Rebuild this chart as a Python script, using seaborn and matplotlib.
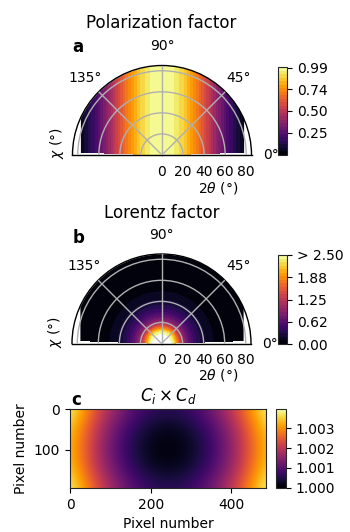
import numpy as np
import matplotlib
matplotlib.use("Agg")
import matplotlib.pyplot as plt
import seaborn as sns

# ---------------- data ----------------
# Polarization factor vs horizontal offset from the vertical axis (deg of 2theta)
pol_offset = [0, 5, 10, 15, 20, 25, 30, 35, 40, 45, 50, 55, 60, 65, 70, 75, 80, 85]
pol_values = [1.00, 0.99, 0.97, 0.93, 0.88, 0.82, 0.75, 0.67, 0.59, 0.50,
              0.41, 0.33, 0.25, 0.18, 0.12, 0.07, 0.03, 0.01]

# Lorentz factor (radially symmetric) vs 2theta
lor_two_theta = [0.5, 5, 9, 12, 15, 18, 21, 25, 30, 35, 40, 45, 50, 55, 60, 70, 80, 85]
lor_values = [60.0, 5.0, 2.55, 2.2, 1.7, 1.25, 0.95, 0.70, 0.48, 0.33, 0.22, 0.14,
              0.09, 0.06, 0.045, 0.03, 0.02, 0.015]

# Ci x Cd correction map (offset from 1, in units of 1e-3) on a coarse pixel grid
cicd_x = [0, 60.75, 121.5, 182.25, 243, 303.75, 364.5, 425.25, 486]
cicd_y = [0, 48.5, 97, 145.5, 194]
cicd_rows = [
    [3.97, 2.48, 1.41, 0.76, 0.55, 0.76, 1.41, 2.48, 3.97],
    [3.56, 2.07, 1.00, 0.35, 0.14, 0.35, 1.00, 2.07, 3.56],
    [3.42, 1.93, 0.86, 0.21, 0.00, 0.21, 0.86, 1.93, 3.42],
    [3.56, 2.07, 1.00, 0.35, 0.14, 0.35, 1.00, 2.07, 3.56],
    [3.97, 2.48, 1.41, 0.76, 0.55, 0.76, 1.41, 2.48, 3.97],
]

chi_range = [2, 178]          # azimuthal coverage of the data (deg)
detector_half_width = 77.5    # horizontal extent of the data (deg of 2theta)
r_max = 85

theta_ticks = [0, 45, 90, 135]
theta_labels = ["0°", "45°", "90°", "135°"]
r_ticks = [0, 20, 40, 60, 80]
pol_ticks = [0.255, 0.50, 0.745, 0.99]
pol_ticklabels = ["0.25", "0.50", "0.74", "0.99"]
lor_ticks = [0.0, 0.625, 1.25, 1.875, 2.5]
lor_ticklabels = ["0.00", "0.62", "1.25", "1.88", "> 2.50"]
cicd_ticks = [1.000, 1.001, 1.002, 1.003]

# ---------------- style ----------------
sns.set_style("ticks")
plt.rcParams["font.family"] = ["DejaVu Sans"]
plt.rcParams["font.size"] = 10
plt.rcParams["text.color"] = "black"
plt.rcParams["xtick.color"] = "black"
plt.rcParams["ytick.color"] = "black"
plt.rcParams["axes.labelcolor"] = "black"
cmap = sns.color_palette("inferno", as_cmap=True)

W, H = 350, 532
fig = plt.figure(figsize=(W / 100, H / 100), dpi=100)


def rect(x0, y0, x1, y1):
    return [x0 / W, 1 - y1 / H, (x1 - x0) / W, (y1 - y0) / H]


def polar_rect(cx, base_y, radius):
    # square box whose centred half-disc has the given centre / baseline / radius
    return rect(cx - radius, base_y - 1.5 * radius, cx + radius, base_y + 0.5 * radius)


def fx(x):
    return x / W


def fy(y):
    return 1 - y / H


chi = np.deg2rad(np.arange(chi_range[0], chi_range[1] + 0.5, 0.5))
r_grid = np.arange(0, r_max + 0.25, 0.5)


def setup_polar(ax):
    ax.set_thetamin(0)
    ax.set_thetamax(180)
    ax.set_rlim(0, r_max)
    ax.set_thetagrids(theta_ticks, theta_labels)
    ax.set_rgrids(r_ticks, [str(t) for t in r_ticks])
    ax.set_axisbelow(False)
    ax.grid(True, color="#b0b0b0", lw=1.0)
    for sp in ax.spines.values():
        sp.set_color("black")
        sp.set_linewidth(1.0)
    # mask region outside the detector coverage
    th = np.deg2rad(np.linspace(0, 180, 721))
    with np.errstate(divide="ignore"):
        edge = np.minimum(r_max, detector_half_width / np.abs(np.cos(th)))
    ax.fill_between(th, edge, r_max + 5, color="white", zorder=1.2, lw=0)


# ---------------- panel a : polarization ----------------
ax_a = fig.add_axes(polar_rect(162, 155, 89.5), projection="polar")
TH, R = np.meshgrid(chi, r_grid)
P = np.interp(np.abs(R * np.cos(TH)), pol_offset, pol_values)
cs_a = ax_a.contourf(TH, R, P, levels=np.linspace(0.0, 1.0, 26), cmap=cmap)
setup_polar(ax_a)
cax_a = fig.add_axes(rect(278, 67, 287, 155))
cb_a = fig.colorbar(cs_a, cax=cax_a, ticks=pol_ticks)
cb_a.ax.set_yticklabels(pol_ticklabels)

# ---------------- panel b : Lorentz ----------------
ax_b = fig.add_axes(polar_rect(161.5, 343.5, 89.5), projection="polar")
TH2, R2 = np.meshgrid(chi, np.asarray(lor_two_theta, float))
L = np.asarray(lor_values)[:, None] * np.ones_like(TH2)
cs_b = ax_b.contourf(TH2, R2, L, levels=np.linspace(0.0, 2.5, 26), cmap=cmap)
setup_polar(ax_b)
cax_b = fig.add_axes(rect(278, 255, 287, 344))
cb_b = fig.colorbar(cs_b, cax=cax_b, ticks=lor_ticks)
cb_b.ax.set_yticklabels(lor_ticklabels)

for axp in (ax_a, ax_b):
    axp.tick_params(labelsize=10)

# ---------------- panel c : Ci x Cd ----------------
ax_c = fig.add_axes(rect(70, 409, 266, 488))
field = 1 + np.asarray(cicd_rows) * 1e-3
dx = cicd_x[1] - cicd_x[0]
dy = cicd_y[1] - cicd_y[0]
im = ax_c.imshow(field, cmap=cmap, interpolation="bicubic", aspect="auto",
                 origin="upper", vmin=1.0, vmax=1.00397,
                 extent=[cicd_x[0] - dx / 2, cicd_x[-1] + dx / 2,
                         cicd_y[-1] + dy / 2, cicd_y[0] - dy / 2])
ax_c.set_xlim(-0.5, 486.5)
ax_c.set_ylim(194.5, -0.5)
ax_c.set_xticks([0, 200, 400])
ax_c.set_yticks([0, 100])
ax_c.set_xlabel("Pixel number", fontsize=10)
ax_c.set_ylabel("Pixel number", fontsize=10)
ax_c.set_title(r"$C_i \times C_d$", fontsize=12)
cax_c = fig.add_axes(rect(276, 409, 285.7, 487.7))
cb_c = fig.colorbar(im, cax=cax_c, ticks=cicd_ticks, format="%.3f")

# ---------------- texts ----------------
fig.text(fx(161.5), fy(27.5), "Polarization factor", ha="center", va="baseline", fontsize=12)
fig.text(fx(161.5), fy(218.5), "Lorentz factor", ha="center", va="baseline", fontsize=12)
fig.text(fx(72.7), fy(51.7), "a", ha="left", va="baseline", fontsize=12, weight="bold")
fig.text(fx(72.7), fy(242.7), "b", ha="left", va="baseline", fontsize=12, weight="bold")
fig.text(fx(71), fy(405), "c", ha="left", va="baseline", fontsize=12, weight="bold")
fig.text(fx(218.5), fy(188.3), r"$2\theta$ (°)", ha="center", va="center", fontsize=10)
fig.text(fx(218.5), fy(375), r"$2\theta$ (°)", ha="center", va="center", fontsize=10)
fig.text(fx(56.7), fy(143.3), r"$\chi$ (°)", ha="center", va="center", rotation=90, fontsize=10)
fig.text(fx(54.5), fy(331.7), r"$\chi$ (°)", ha="center", va="center", rotation=90, fontsize=10)

fig.savefig("out.png", dpi=100)
